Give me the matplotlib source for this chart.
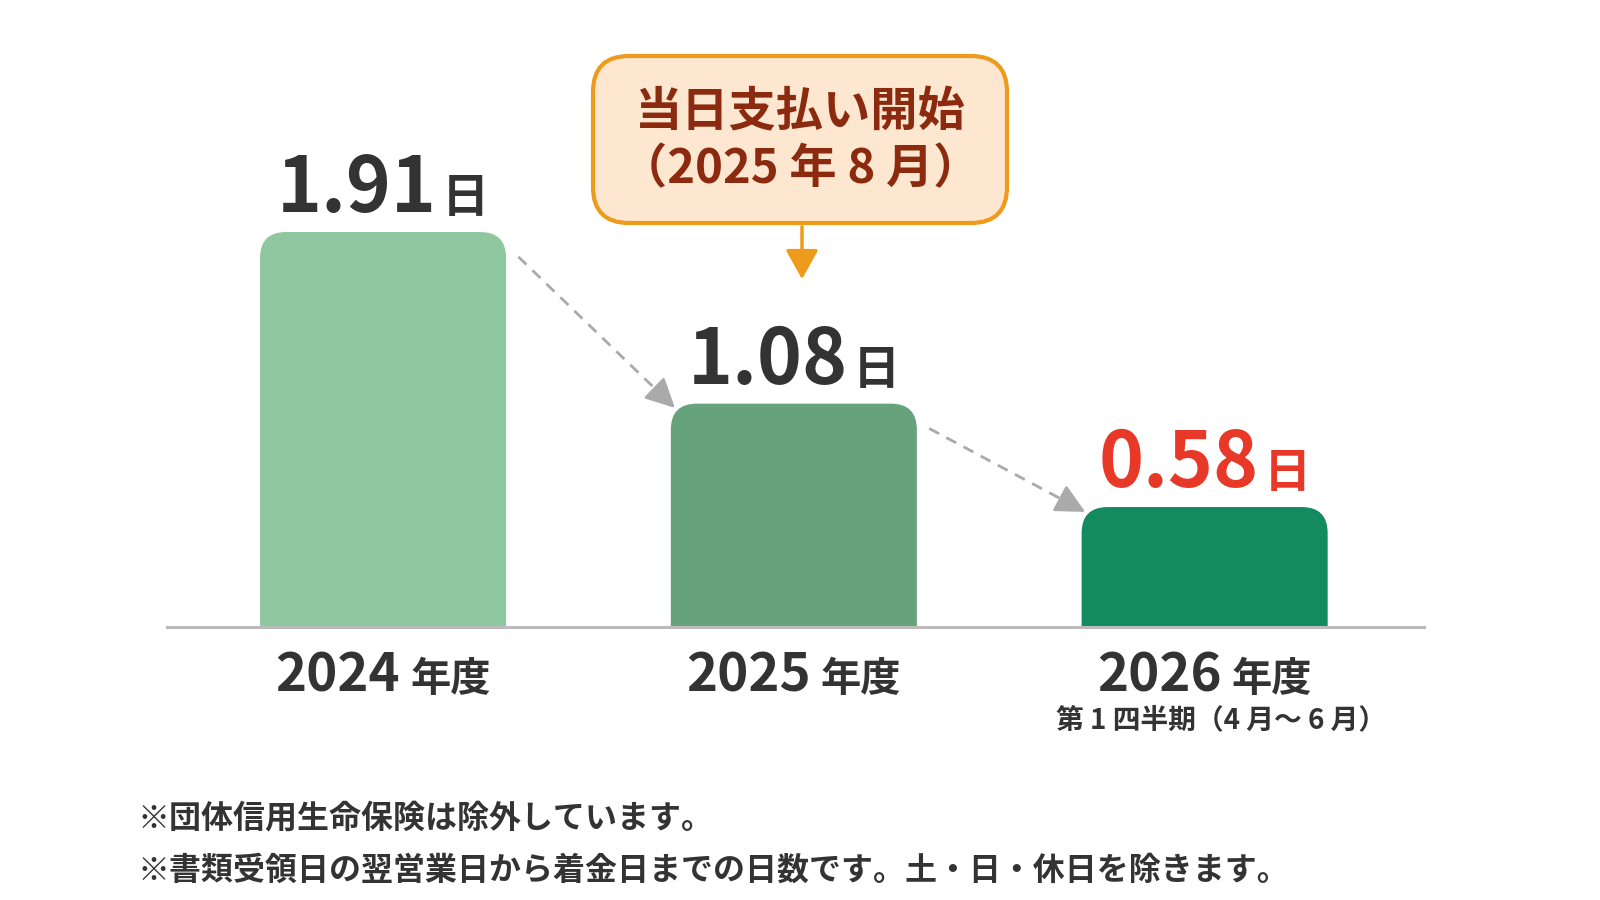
import numpy as np
import matplotlib.pyplot as plt
from matplotlib.patches import FancyBboxPatch
from matplotlib import transforms

plt.rcParams['font.family'] = ['Noto Sans CJK JP', 'DejaVu Sans']

# データ
years = ['2024', '2025', '2026']
year_unit = '年度'
days = [1.91, 1.08, 0.58]
day_unit = '日'
sub_label = '第 1 四半期（4 月〜 6 月）'
callout_lines = ['当日支払い開始', '（2025 年 8 月）']
notes = ['※団体信用生命保険は除外しています。',
         '※書類受領日の翌営業日から着金日までの日数です。土・日・休日を除きます。']
bar_colors = ['#8FC8A0', '#66A37C', '#148A60']
label_colors = ['#333333', '#333333', '#E83828']

W, H = 1600, 900
fig = plt.figure(figsize=(16, 9), dpi=100)
ax = fig.add_axes([167 / W, 1 - 627 / H, 1257 / W, 517 / H])
ax.set_xlim(-0.526, 2.534)
ax.set_ylim(0, 2.5)
ax.axis('off')

x = np.arange(len(days))
bw = 0.599
rx = 26 / 410.75
ry = 26 / 206.8
for xi, v, c in zip(x, days, bar_colors):
    p = FancyBboxPatch((xi - bw / 2, -ry), bw, v + ry,
                       boxstyle=f'round,pad=0,rounding_size={rx}',
                       mutation_aspect=ry / rx, fc=c, ec='none', zorder=2)
    ax.add_patch(p)
ax.axhline(0, color='#BBBBBB', lw=2.2, zorder=3, clip_on=False)

renderer = fig.canvas.get_renderer()
ident = transforms.IdentityTransform()


def pair_text(cx, y, s1, s2, fs1, fs2, color, gap=8):
    t1 = fig.text(0, y, s1, fontsize=fs1, fontweight='bold', color=color,
                  ha='left', va='baseline', transform=ident)
    t2 = fig.text(0, y, s2, fontsize=fs2, fontweight='bold', color=color,
                  ha='left', va='baseline', transform=ident)
    w1 = t1.get_window_extent(renderer).width
    w2 = t2.get_window_extent(renderer).width
    left = cx - (w1 + gap + w2) / 2
    t1.set_x(left)
    t2.set_x(left + w1 + gap)


# 値ラベル
for xi, v, c in zip(x, days, label_colors):
    px, py = ax.transData.transform((xi, v))
    pair_text(px, py + 20, f'{v:.2f}', day_unit, 55, 34, c, gap=5)

# 年度ラベル
for xi, yr in zip(x, years):
    px, _ = ax.transData.transform((xi, 0))
    pair_text(px, H - 691, yr, year_unit, 38, 29, '#333333', gap=10)
px, _ = ax.transData.transform((x[2], 0))
fig.text(px + 16, H - 720, sub_label, fontsize=20, fontweight='bold',
         color='#333333', ha='center', va='center', transform=ident)

# 破線矢印
for i in range(len(days) - 1):
    x0, y0 = x[i] + bw / 2 + 0.03, days[i] - 0.12
    x1, y1 = x[i + 1] - bw / 2 + 0.015, days[i + 1] - 0.03
    mx, my = x1 - (x1 - x0) * 0.1, y1 - (y1 - y0) * 0.1
    ax.plot([x0, mx], [y0, my], color='#AAAAAA', lw=2, ls=(0, (4, 3)), zorder=1)
    ax.annotate('', xy=(x1, y1), xytext=(mx, my),
                arrowprops=dict(arrowstyle='-|>,head_length=0.9,head_width=0.45',
                                color='#AAAAAA', lw=2, mutation_scale=20))

# 吹き出し
box = FancyBboxPatch((593, H - 223), 414, 167,
                     boxstyle='round,pad=0,rounding_size=36',
                     fc='#FDE7D1', ec='#EE9A1B', lw=3, transform=ident)
fig.patches.append(box)
fig.text(800, H - 112, callout_lines[0], fontsize=34, fontweight='bold',
         color='#8B2A0E', ha='center', va='center', transform=ident)
fig.text(800, H - 169, callout_lines[1], fontsize=34, fontweight='bold',
         color='#8B2A0E', ha='center', va='center', transform=ident)
ax.annotate('', xy=(802, H - 282), xytext=(802, H - 224),
            xycoords='figure pixels', textcoords='figure pixels',
            arrowprops=dict(arrowstyle='-|>,head_length=0.9,head_width=0.5',
                            color='#EE9A1B', lw=2.5, mutation_scale=20))

# 注記
for i, s in enumerate(notes):
    fig.text(138, H - 818 - 53 * i, s, fontsize=23, fontweight='bold',
             color='#333333', ha='left', va='center', transform=ident)

fig.savefig('out.png', dpi=100)
